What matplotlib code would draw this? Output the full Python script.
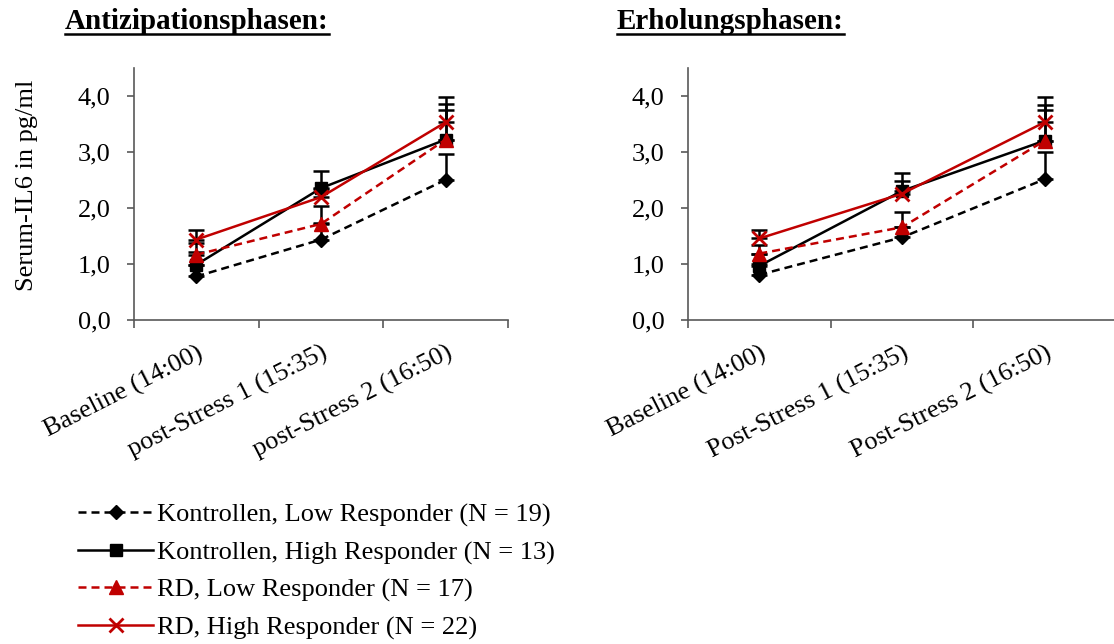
import matplotlib
matplotlib.use("Agg")
import matplotlib.pyplot as plt
from matplotlib.lines import Line2D

plt.rcParams['font.family'] = ['Liberation Serif', 'DejaVu Serif']

# ---- data ----
cats_left = ["Baseline (14:00)", "post-Stress 1 (15:35)", "post-Stress 2 (16:50)"]
cats_right = ["Baseline (14:00)", "Post-Stress 1 (15:35)", "Post-Stress 2 (16:50)"]
series_names = ["Kontrollen, Low Responder (N = 19)",
                "Kontrollen, High Responder (N = 13)",
                "RD, Low Responder (N = 17)",
                "RD, High Responder (N = 22)"]

# Antizipationsphasen
ant_k_low = [0.77, 1.43, 2.50]
ant_k_low_err = [0.20, 0.29, 0.46]
ant_k_high = [0.98, 2.35, 3.22]
ant_k_high_err = [0.22, 0.31, 0.64]
ant_rd_low = [1.16, 1.71, 3.22]
ant_rd_low_err = [0.20, 0.32, 0.52]
ant_rd_high = [1.43, 2.19, 3.53]
ant_rd_high_err = [0.17, 0.15, 0.46]

# Erholungsphasen
erh_k_low = [0.80, 1.47, 2.51]
erh_k_low_err = [0.20, 0.18, 0.48]
erh_k_high = [0.96, 2.30, 3.20]
erh_k_high_err = [0.22, 0.33, 0.64]
erh_rd_low = [1.18, 1.65, 3.20]
erh_rd_low_err = [0.16, 0.28, 0.54]
erh_rd_high = [1.45, 2.25, 3.53]
erh_rd_high_err = [0.15, 0.23, 0.46]

yticks = [0, 1, 2, 3, 4]
ytick_labels = ["0,0", "1,0", "2,0", "3,0", "4,0"]

RED = "#C00000"
FS = 19
styles = [
    dict(color="black", linestyle=(0, (3.2, 2.0)), marker="D", markersize=7),
    dict(color="black", linestyle="-", marker="s", markersize=8),
    dict(color=RED, linestyle=(0, (3.2, 2.0)), marker="^", markersize=9.5),
    dict(color=RED, linestyle="-", marker="x", markersize=10, markeredgewidth=2.0),
]

W, H = 1114, 644
fig = plt.figure(figsize=(W / 100, H / 100), dpi=100)

def fx(px):
    return px / W

def fy(py):
    return 1 - py / H

ax1 = fig.add_axes([fx(134), fy(319.5), fx(508 - 134), (319.5 - 68) / H])
ax2 = fig.add_axes([fx(688), fy(319.5), fx(1116 - 688), (319.5 - 68) / H])

def draw(ax, cats, data):
    x = list(range(len(cats)))
    handles = []
    for (vals, errs), st in zip(data, styles):
        ax.errorbar(x, vals, yerr=[[0] * len(errs), errs], fmt="none",
                    ecolor="black", elinewidth=1.8, capsize=5.5, capthick=1.8,
                    zorder=2)
    for (vals, errs), st in zip(data, styles):
        kw = dict(st)
        mew = kw.pop("markeredgewidth", 1.0)
        h, = ax.plot(x, vals, linewidth=1.8, markeredgewidth=mew,
                     markerfacecolor=kw["color"], markeredgecolor=kw["color"],
                     zorder=3, **kw)
        handles.append(h)
    ax.set_xlim(-0.5, len(cats) - 0.5)
    ax.set_ylim(0, 4.5)
    ax.set_yticks(yticks)
    ax.set_yticklabels(ytick_labels, fontsize=FS)
    ax.set_xticks([i - 0.5 for i in range(len(cats) + 1)])
    ax.set_xticklabels([])
    ax.set_xticks(x, minor=True)
    ax.set_xticklabels(cats, minor=True, fontsize=FS, rotation=27,
                       ha="right", va="top", rotation_mode="anchor")
    ax.tick_params(axis="x", which="minor", length=0, pad=16)
    ax.tick_params(axis="x", which="major", length=6, width=1.2,
                   direction="out", color="#595959")
    ax.tick_params(axis="y", length=5, width=1.2, direction="out",
                   color="#595959", pad=12)
    for s in ["top", "right"]:
        ax.spines[s].set_visible(False)
    for s in ["left", "bottom"]:
        ax.spines[s].set_color("#595959")
        ax.spines[s].set_linewidth(1.2)
    return handles

handles = draw(ax1, cats_left, [
    (ant_k_low, ant_k_low_err), (ant_k_high, ant_k_high_err),
    (ant_rd_low, ant_rd_low_err), (ant_rd_high, ant_rd_high_err)])
draw(ax2, cats_right, [
    (erh_k_low, erh_k_low_err), (erh_k_high, erh_k_high_err),
    (erh_rd_low, erh_rd_low_err), (erh_rd_high, erh_rd_high_err)])

ax1.set_ylabel("Serum-IL6 in pg/ml", fontsize=FS)
ax1.yaxis.set_label_coords(-(134 - 38) / (508 - 134), 0.535)

t1 = fig.text(fx(65), fy(29), "Antizipationsphasen:", fontsize=21,
              fontweight="bold", ha="left", va="baseline")
t2 = fig.text(fx(617), fy(29), "Erholungsphasen:", fontsize=21,
              fontweight="bold", ha="left", va="baseline")

leg = fig.legend(handles, series_names, loc="upper left",
                 bbox_to_anchor=(fx(78), fy(503)), frameon=False,
                 fontsize=FS, handlelength=2.85, handletextpad=0.15,
                 labelspacing=0.52, numpoints=1, borderaxespad=0,
                 borderpad=0)

fig.canvas.draw()
r = fig.canvas.get_renderer()
for t in (t1, t2):
    bb = t.get_window_extent(r).transformed(fig.transFigure.inverted())
    fig.add_artist(Line2D([bb.x0, bb.x1], [fy(33.5), fy(33.5)],
                          transform=fig.transFigure, color="black",
                          linewidth=1.8))

fig.savefig("out.png", dpi=100)
